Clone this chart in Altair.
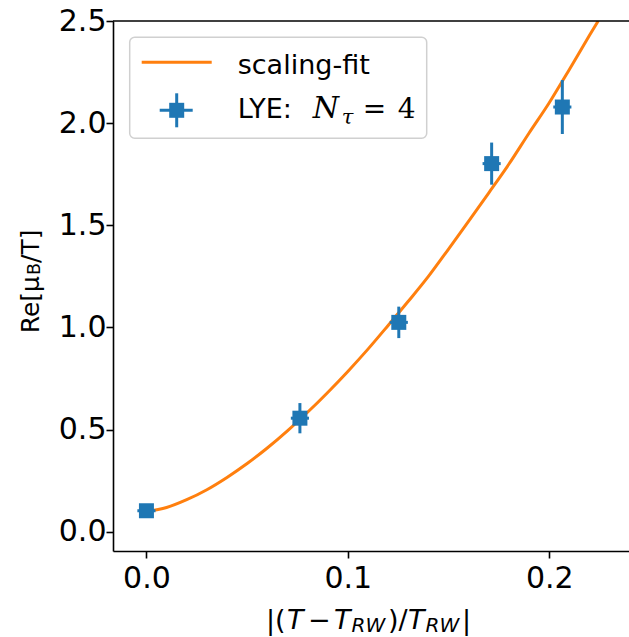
import altair as alt
import pandas as pd

# ---- data ----
x_vals = [0.0, 0.0762, 0.1253, 0.1714, 0.2065]
y_vals = [0.103, 0.556, 1.025, 1.802, 2.079]
x_err = [0.0045, 0.0045, 0.0045, 0.0045, 0.0045]
y_err = [0.02, 0.074, 0.077, 0.103, 0.132]

fit_x = [0.0, 0.01, 0.02, 0.03, 0.04, 0.05, 0.06, 0.07, 0.08, 0.09, 0.10, 0.11,
         0.12, 0.13, 0.14, 0.15, 0.16, 0.17, 0.18, 0.19, 0.20, 0.21, 0.22, 0.2243]
fit_y = [0.100, 0.119, 0.157, 0.206, 0.266, 0.334, 0.410, 0.494, 0.585, 0.682, 0.785, 0.894,
         1.010, 1.128, 1.250, 1.384, 1.520, 1.659, 1.800, 1.952, 2.100, 2.263, 2.430, 2.500]

x_ticks = [0.0, 0.1, 0.2]
y_ticks = [0.0, 0.5, 1.0, 1.5, 2.0, 2.5]

BLUE = "#1f77b4"
ORANGE = "#ff7f0e"
FONT = "DejaVu Sans"
MATH = "DejaVu Serif"
W, H = 516, 530

pts = pd.DataFrame({"x": x_vals, "y": y_vals, "xe": x_err, "ye": y_err})
fit = pd.DataFrame({"x": fit_x, "y": fit_y})
one = pd.DataFrame({"a": [0]})

xscale = alt.Scale(domain=[-0.0166, 0.2396], nice=False, zero=False)
yscale = alt.Scale(domain=[-0.094, 2.5], nice=False, zero=False)

axis_common = dict(
    title=None, grid=False, domainColor="black", domainWidth=1.6,
    tickColor="black", tickWidth=1.6, tickSize=7, labelFontSize=30,
    labelFont=FONT, labelColor="black", format=".1f",
)
xaxis = alt.Axis(values=x_ticks, labelPadding=5, **axis_common)
yaxis = alt.Axis(values=y_ticks, labelPadding=0, **axis_common)

line = alt.Chart(fit).mark_line(color=ORANGE, strokeWidth=3, clip=True, interpolate="monotone").encode(
    x=alt.X("x:Q", scale=xscale, axis=xaxis),
    y=alt.Y("y:Q", scale=yscale, axis=yaxis),
)

base = alt.Chart(pts).transform_calculate(
    xlo="datum.x - datum.xe", xhi="datum.x + datum.xe",
    ylo="datum.y - datum.ye", yhi="datum.y + datum.ye",
)
xbars = base.mark_rule(color=BLUE, strokeWidth=3).encode(
    x=alt.X("xlo:Q", scale=xscale), x2="xhi:Q", y=alt.Y("y:Q", scale=yscale)
)
ybars = base.mark_rule(color=BLUE, strokeWidth=3).encode(
    x=alt.X("x:Q", scale=xscale), y=alt.Y("ylo:Q", scale=yscale), y2="yhi:Q"
)
markers = base.mark_point(shape="square", filled=True, size=225, color=BLUE, opacity=1).encode(
    x=alt.X("x:Q", scale=xscale), y=alt.Y("y:Q", scale=yscale)
)

top_spine = alt.Chart(one).mark_rule(color="black", strokeWidth=1.6).encode(
    x=alt.value(0), x2=alt.value(W), y=alt.value(0)
)

# ---- legend ----
leg_box = alt.Chart(one).mark_rect(fill="white", stroke="#cccccc", strokeWidth=1.5, cornerRadius=5, opacity=0.9).encode(
    x=alt.value(16.7), x2=alt.value(313.7), y=alt.value(16.3), y2=alt.value(117.3)
)
leg_line = alt.Chart(one).mark_rule(color=ORANGE, strokeWidth=3).encode(
    x=alt.value(28.7), x2=alt.value(98.7), y=alt.value(41.3)
)
leg_h = alt.Chart(one).mark_rule(color=BLUE, strokeWidth=3).encode(
    x=alt.value(46.7), x2=alt.value(79.7), y=alt.value(89.3)
)
leg_v = alt.Chart(one).mark_rule(color=BLUE, strokeWidth=3).encode(
    x=alt.value(63.7), y=alt.value(72.3), y2=alt.value(106.3)
)
leg_sq = alt.Chart(one).mark_point(shape="square", filled=True, size=225, color=BLUE, opacity=1).encode(
    x=alt.value(63.7), y=alt.value(89.3)
)

def txt(s, x, y, size=26, font=FONT, style="normal", align="left", angle=0, baseline="alphabetic"):
    kw = dict(text=s, align=align, baseline=baseline, fontSize=size, font=font, color="black", fontStyle=style)
    if angle:
        kw["angle"] = angle
    return alt.Chart(one).mark_text(**kw).encode(x=alt.value(x), y=alt.value(y))

LB = 96.8
leg_texts = [
    txt("scaling-fit", 124.7, 53.3, size=27),
    txt("LYE:", 124.7, LB, size=27),
    txt("N", 199.7, LB, size=30, font=MATH, style="italic"),
    txt("τ", 228.7, LB + 6.5, size=21, font=MATH, style="italic"),
    txt("=", 249.7, LB, size=28, font=MATH),
    txt("4", 284.7, LB, size=28, font=MATH),
]

# ---- x axis title pieces ----
XB = 607.5
SB = 610.5
xt = [
    txt("|(", 153, XB, size=27),
    txt("T", 174, XB, size=27, style="italic"),
    txt("−", 195, XB, size=27),
    txt("T", 221, XB, size=27, style="italic"),
    txt("RW", 238.5, SB, size=20, style="italic"),
    txt(")/", 275, XB, size=27),
    txt("T", 295, XB, size=27, style="italic"),
    txt("RW", 312.5, SB, size=20, style="italic"),
    txt("|", 349, XB, size=27),
]

# ---- y axis title pieces (rotated) ----
yt = [
    txt("Re[μ", -82, 312.3, size=25, angle=270, baseline="middle"),
    txt("B", -78, 253.9, size=17.5, angle=270, baseline="middle"),
    txt("/T]", -82, 241.9, size=25, angle=270, baseline="middle"),
]

chart = alt.layer(
    line, xbars, ybars, markers, top_spine,
    leg_box, leg_line, leg_h, leg_v, leg_sq, *leg_texts, *xt, *yt
).properties(
    width=W, height=H,
    autosize=alt.AutoSizeParams(type="none"),
    padding={"left": 113, "top": 21, "right": 0, "bottom": 86},
).configure_view(stroke=None)

chart.save("out.html", embed_options={"renderer": "svg", "actions": False})
